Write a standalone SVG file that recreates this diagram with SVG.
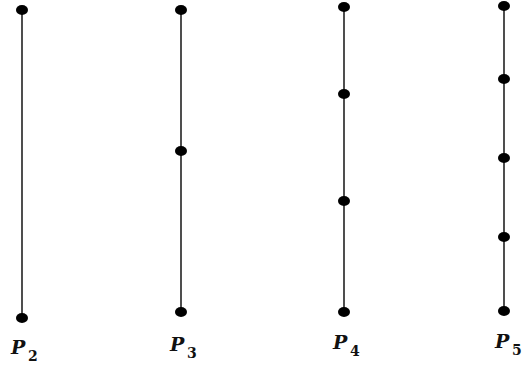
<svg xmlns="http://www.w3.org/2000/svg" width="527" height="372" viewBox="0 0 527 372">
<style>
.ln{stroke:#222;stroke-width:1.6;fill:none}
.dot{fill:#000}
.lb{font-family:"DejaVu Serif",serif;font-style:italic;font-weight:bold;font-size:19px;fill:#111}
.sb{font-family:"DejaVu Serif",serif;font-weight:bold;font-size:14px;fill:#111}
</style>
<rect width="527" height="372" fill="#fff"/>
<g id="connectors">
<line class="ln" x1="22" y1="10" x2="22" y2="318"/>
<line class="ln" x1="181" y1="10" x2="181" y2="312"/>
<line class="ln" x1="344" y1="7" x2="344" y2="312"/>
<line class="ln" x1="504" y1="6" x2="504" y2="311"/>
</g>
<g id="P2">
<ellipse class="dot" cx="22" cy="10" rx="6" ry="5"/>
<ellipse class="dot" cx="22" cy="318" rx="6" ry="5"/>
<text class="lb" x="11" y="354">P</text><text class="sb" x="28" y="361">2</text>
</g>
<g id="P3">
<ellipse class="dot" cx="181" cy="10" rx="6" ry="5"/>
<ellipse class="dot" cx="181" cy="151" rx="6" ry="5"/>
<ellipse class="dot" cx="181" cy="312" rx="6" ry="5"/>
<text class="lb" x="170" y="351">P</text><text class="sb" x="187" y="358">3</text>
</g>
<g id="P4">
<ellipse class="dot" cx="344" cy="7" rx="6" ry="5"/>
<ellipse class="dot" cx="344" cy="94" rx="6" ry="5"/>
<ellipse class="dot" cx="344" cy="201" rx="6" ry="5"/>
<ellipse class="dot" cx="344" cy="312" rx="6" ry="5"/>
<text class="lb" x="333" y="349">P</text><text class="sb" x="350" y="356">4</text>
</g>
<g id="P5">
<ellipse class="dot" cx="504" cy="6" rx="6" ry="5"/>
<ellipse class="dot" cx="504" cy="79" rx="6" ry="5"/>
<ellipse class="dot" cx="504" cy="158" rx="6" ry="5"/>
<ellipse class="dot" cx="504" cy="237" rx="6" ry="5"/>
<ellipse class="dot" cx="504" cy="311" rx="6" ry="5"/>
<text class="lb" x="495" y="348">P</text><text class="sb" x="512" y="355">5</text>
</g>
</svg>
